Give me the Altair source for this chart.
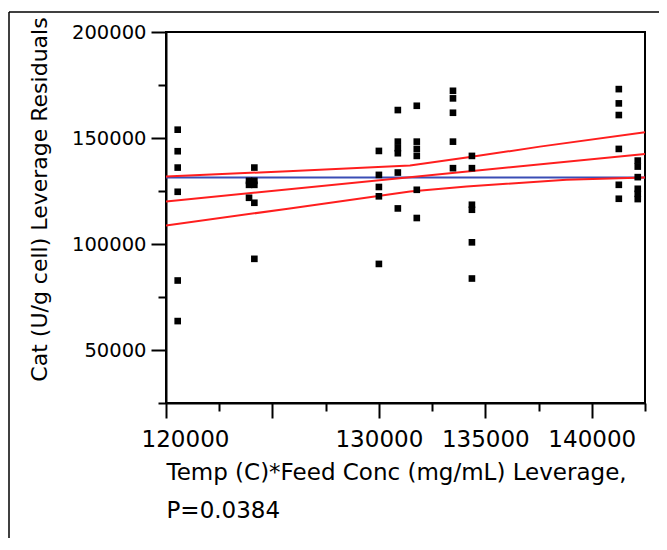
import altair as alt
import pandas as pd

# ---- data ----
point_x = ([120550] * 6 + [123900] * 3 + [124150] * 5 + [130000] * 5 +
           [130890] * 6 + [131780] * 6 + [133480] * 5 + [134370] * 6 +
           [141270] * 6 + [142160] * 6)
point_y = [153920, 143760, 136050, 124630, 82780, 63640,
           129800, 127900, 121800,
           136050, 129800, 127900, 119450, 93000,
           143900, 132600, 126900, 122500, 90600,
           163180, 148280, 145180, 142820, 133700, 116780,
           165200, 148280, 144850, 141550, 125570, 112260,
           172260, 168690, 161910, 148280, 135770,
           141550, 135770, 118510, 116160, 100790, 83720,
           173060, 166330, 160830, 144850, 127920, 121340,
           139340, 136520, 131540, 126040, 123690, 121190]

fit_x = [120000, 142500]
fit_y = [120070, 142500]
mean_x = [120000, 142500]
mean_y = [131350, 131350]
upper_x = [120000, 125730, 131460, 134120, 137560, 142500]
upper_y = [131820, 134360, 136990, 140750, 145930, 152700]
lower_x = [120000, 125730, 131460, 134120, 138810, 142500]
lower_y = [108780, 116630, 124770, 127120, 130270, 131350]

x_ticks = [120000, 122500, 125000, 127500, 130000, 132500, 135000, 137500, 140000, 142500]
y_ticks = [25000, 50000, 75000, 100000, 125000, 150000, 175000, 200000]
x_title = ["Temp (C)*Feed Conc (mg/mL) Leverage,", "P=0.0384"]
y_title = "Cat (U/g cell) Leverage Residuals"

FONT = "DejaVu Sans"
RED = "#FF1E1E"
BLUE = "#3A4DB5"

x_scale = alt.Scale(domain=[120000, 142500], nice=False, zero=False)
y_scale = alt.Scale(domain=[25000, 200000], nice=False, zero=False)

x_axis = alt.Axis(
    values=x_ticks,
    labelExpr="(datum.value % 5000 === 0 && datum.value !== 125000) ? format(datum.value, 'd') : ''",
    tickSize={"condition": {"test": "datum.value % 5000 === 0", "value": 15}, "value": 8},
    labelOffset={"condition": {"test": "datum.value === 120000", "value": 19}, "value": 0},
    tickColor="black", tickWidth=2, domainColor="black", domainWidth=2,
    labelFont=FONT, labelFontSize=23, labelColor="black", labelPadding=10,
    labelFlush=False, labelOverlap=False, grid=False,
    title=x_title, titleFont=FONT, titleFontSize=23, titleFontWeight="normal",
    titleColor="black", titleAlign="left", titleAnchor="start",
    titleBaseline="alphabetic", titleX=0, titleY=76, titleLineHeight=38,
)
y_axis = alt.Axis(
    values=y_ticks,
    labelExpr="(datum.value % 50000 === 0) ? format(datum.value, 'd') : ''",
    tickSize={"condition": {"test": "datum.value % 50000 === 0", "value": 15}, "value": 8},
    tickColor="black", tickWidth=2, domainColor="black", domainWidth=2,
    labelFont=FONT, labelFontSize=19.5, labelColor="black", labelPadding=5,
    labelOverlap=False, grid=False,
    title=y_title, titleFont=FONT, titleFontSize=22, titleFontWeight="normal",
    titleColor="black", titleAlign="center", titleAngle=270,
    titleBaseline="alphabetic", titleX=-120, titleY=167,
)

X = alt.X("x:Q", scale=x_scale, axis=x_axis)
Y = alt.Y("y:Q", scale=y_scale, axis=y_axis)

pts = alt.Chart(pd.DataFrame({"x": point_x, "y": point_y})).mark_square(
    size=44, color="black", opacity=1).encode(x=X, y=Y)


def line(xs, ys, color):
    return alt.Chart(pd.DataFrame({"x": xs, "y": ys})).mark_line(
        color=color, strokeWidth=2, clip=True).encode(x=X, y=Y)


mean_line = line(mean_x, mean_y, BLUE)
fit_line = line(fit_x, fit_y, RED)
upper_line = line(upper_x, upper_y, RED)
lower_line = line(lower_x, lower_y, RED)

one = pd.DataFrame({"a": [0]})
frame_left = alt.Chart(one).mark_rule(color="black", strokeWidth=1.5).encode(
    x=alt.value(-157), y=alt.value(-20), y2=alt.value(520))
frame_top = alt.Chart(one).mark_rule(color="black", strokeWidth=1.5).encode(
    x=alt.value(-157), x2=alt.value(520), y=alt.value(-20))

chart = alt.layer(
    mean_line, fit_line, upper_line, lower_line, pts, frame_left, frame_top
).properties(
    width=479, height=371,
    autosize=alt.AutoSizeParams(type="none"),
    padding={"left": 158, "top": 24, "right": 14, "bottom": 135},
    background="white",
).configure_view(stroke="black", strokeWidth=2)

chart.save("out.html", embed_options={"renderer": "svg", "actions": False})
